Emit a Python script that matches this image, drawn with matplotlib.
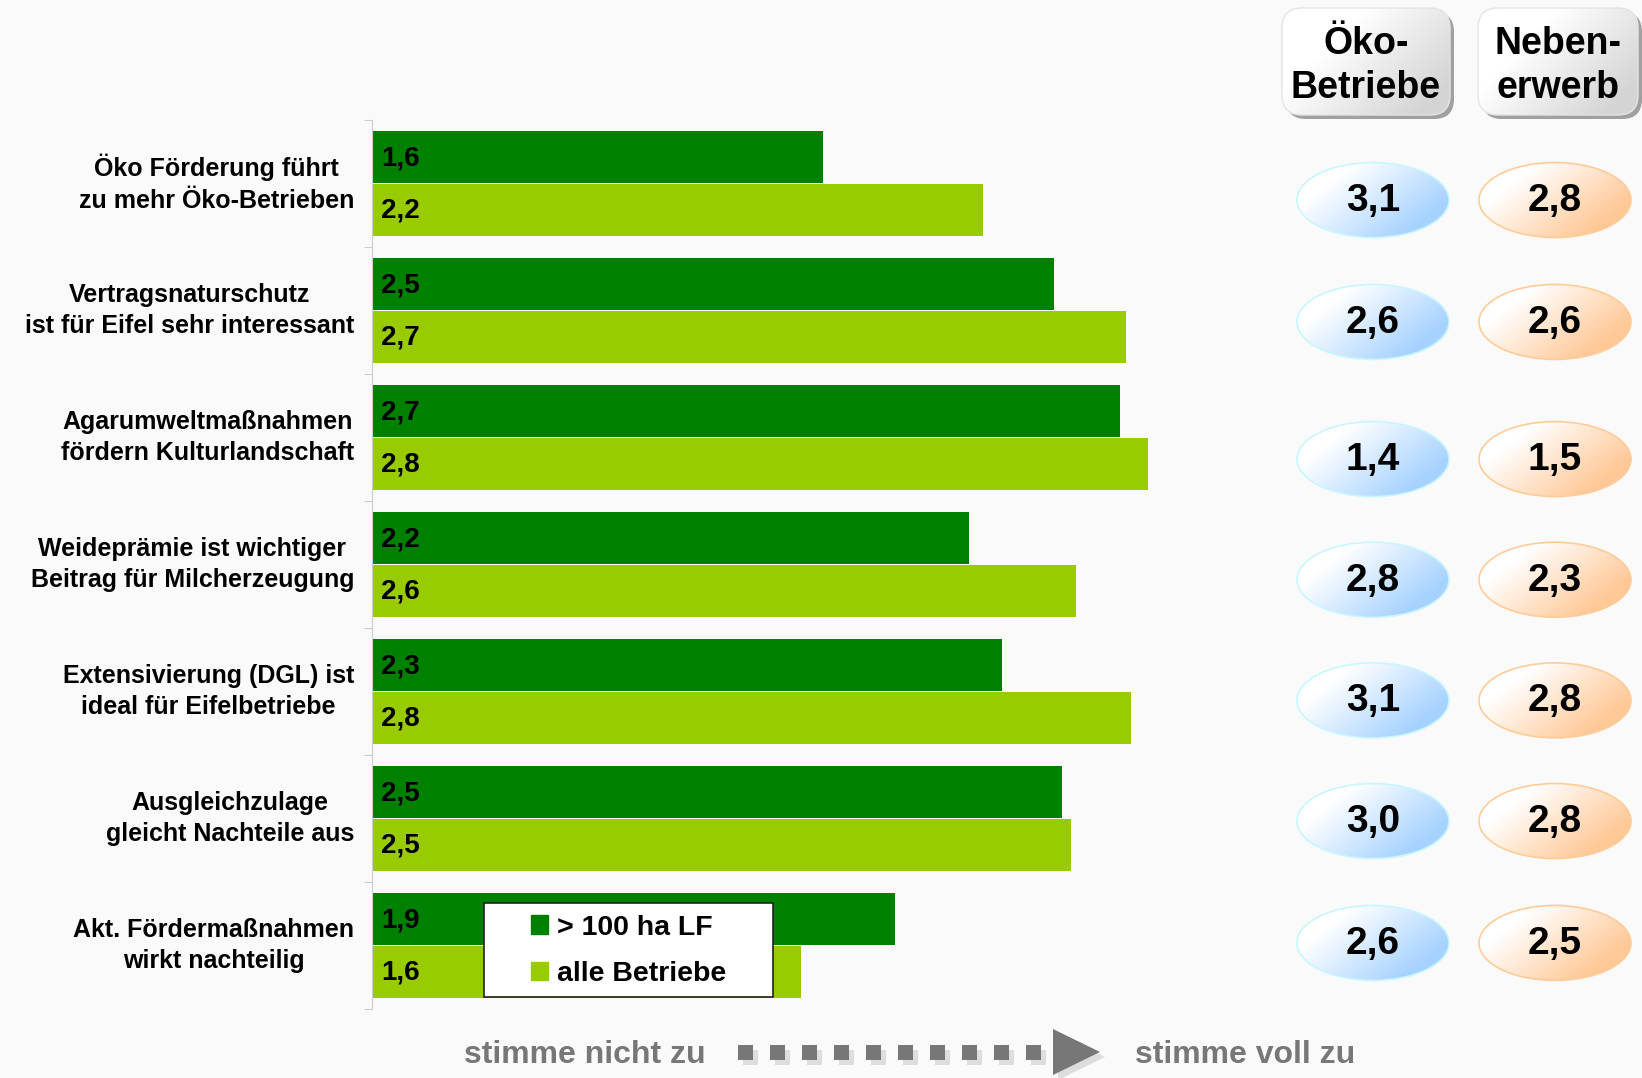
"""
Förderpolitik-Bewertung: Zustimmung je Aussage (>100 ha LF vs. alle Betriebe),
rechts Mittelwerte für Öko-Betriebe und Nebenerwerb.
"""
import numpy as np
import matplotlib
matplotlib.use("Agg")
import matplotlib.pyplot as plt
from matplotlib.patches import Ellipse, FancyBboxPatch, Rectangle, Polygon, Patch

plt.rcParams["font.family"] = ["Liberation Sans", "DejaVu Sans"]

# ── data ─────────────────────────────────────────────────────────────────────
CATEGORIES = [
    "Öko Förderung führt\nzu mehr Öko-Betrieben",
    "Vertragsnaturschutz\nist für Eifel sehr interessant",
    "Agarumweltmaßnahmen\nfördern Kulturlandschaft",
    "Weideprämie ist wichtiger\nBeitrag für Milcherzeugung",
    "Extensivierung (DGL) ist\nideal für Eifelbetriebe",
    "Ausgleichzulage\ngleicht Nachteile aus",
    "Akt. Fördermaßnahmen\nwirkt nachteilig",
]
GROSS = [1.64, 2.48, 2.72, 2.17, 2.29, 2.51, 1.90]   # > 100 ha LF
ALLE = [2.22, 2.74, 2.82, 2.56, 2.76, 2.54, 1.56]    # alle Betriebe
OEKO = [3.1, 2.6, 1.4, 2.8, 3.1, 3.0, 2.6]
NEBEN = [2.8, 2.6, 1.5, 2.3, 2.8, 2.8, 2.5]
SERIES_LABELS = ["> 100 ha LF", "alle Betriebe"]
HEADERS = ["Öko-\nBetriebe", "Neben-\nerwerb"]

DARK = "#008000"
LIGHT = "#99cc00"
BG = "#fafafa"
GREY = "#777777"

# layout nudges of the oval column (category units)
ROW_NUDGE = [0.13, 0.09, 0.17, 0.12, 0.07, 0.02, -0.02]

W, H = 1642, 1078
fig = plt.figure(figsize=(W / 100, H / 100), dpi=100, facecolor=BG)


def fx(px):
    return px / W


def fy(px):
    return 1 - px / H


def fmt(v):
    return f"{v:.1f}".replace(".", ",")


# ── bars ─────────────────────────────────────────────────────────────────────
ax = fig.add_axes([fx(372), fy(1009), 880 / W, 889 / H])
ax.set_facecolor("none")
n = len(CATEGORIES)
y = np.arange(n)
ax.barh(y + 0.29, GROSS, height=0.41, color=DARK, label=SERIES_LABELS[0])
ax.barh(y + 0.705, ALLE, height=0.41, color=LIGHT, label=SERIES_LABELS[1])
ax.set_xlim(0, 3.2)
ax.set_ylim(n, 0)
for i in range(n):
    ax.text(0.033, i + 0.30, fmt(GROSS[i]), va="center", ha="left",
            fontsize=20, fontweight="bold")
    ax.text(0.033, i + 0.715, fmt(ALLE[i]), va="center", ha="left",
            fontsize=20, fontweight="bold")
    ax.text(-0.065, i + 0.5, CATEGORIES[i], va="center", ha="right",
            multialignment="center", fontsize=18, fontweight="bold",
            linespacing=1.4)
for s in ["top", "right", "bottom"]:
    ax.spines[s].set_visible(False)
ax.spines["left"].set_color("#cccccc")
ax.set_yticks(np.arange(n + 1))
ax.set_yticklabels([])
ax.tick_params(axis="y", length=6, color="#cccccc")
ax.set_xticks([])

# ── overlay in pixel coordinates ─────────────────────────────────────────────
ov = fig.add_axes([0, 0, 1, 1], zorder=2)
ov.set_facecolor("none")
ov.set_axis_off()


def gradient(x0, y0, w, h, color, clip, z, start=0.3):
    u, v = np.meshgrid(np.linspace(0, 1, 120), np.linspace(0, 1, 60))
    t = np.clip((0.8 * u + 0.5 * v - start) / 0.75, 0, 1)[..., None]
    c = np.array(matplotlib.colors.to_rgb(color))
    img = (1 - t) * np.ones(3) + t * c
    im = ov.imshow(img, extent=(x0, x0 + w, y0 + h, y0), aspect="auto",
                   interpolation="bilinear", zorder=z)
    im.set_clip_path(clip)


# header boxes
for hx, hw, txt in [(1282, 168, HEADERS[0]), (1478, 160, HEADERS[1])]:
    sh = FancyBboxPatch((hx + 4, 12), hw, 107, boxstyle="round,pad=0,rounding_size=20",
                        fc="#a0a0a0", ec="none", zorder=2)
    ov.add_patch(sh)
    box = FancyBboxPatch((hx, 8), hw, 107, boxstyle="round,pad=0,rounding_size=20",
                         fc="white", ec="none", zorder=3)
    ov.add_patch(box)
    gradient(hx, 8, hw, 107, "#d4d4d4", box, 3.5, start=0.4)
    ov.add_patch(FancyBboxPatch((hx, 8), hw, 107, boxstyle="round,pad=0,rounding_size=20",
                                fc="none", ec="#e4e4e4", lw=1, zorder=4))
    ov.text(hx + hw / 2, 66, txt, ha="center", va="center", fontsize=27,
            fontweight="bold", linespacing=1.25, zorder=5)

# ovals with means
for i in range(n):
    yc = H - ax.transData.transform((0, i + 0.5 + ROW_NUDGE[i]))[1]
    for xc, val, col, edge in [(1373, OEKO[i], "#a6d2ff", "#c8f6ff"),
                               (1555, NEBEN[i], "#ffc896", "#ffcc99")]:
        e = Ellipse((xc, yc), 152, 75, fc="white", ec="none", zorder=3)
        ov.add_patch(e)
        gradient(xc - 76, yc - 37.5, 152, 75, col, e, 3.5)
        ov.add_patch(Ellipse((xc, yc), 152, 75, fc="none", ec=edge, lw=1.2, zorder=4))
        ov.text(xc, yc + 1, fmt(val), ha="center", va="center", fontsize=28,
                fontweight="bold", zorder=5)

# legend frame + legend
ov.add_patch(Rectangle((484, 903), 289, 94, fc="white", ec="#222222", lw=1.2, zorder=3))
handles = [Patch(color=DARK), Patch(color=LIGHT)]
fig.legend(handles, SERIES_LABELS, loc="upper left",
           bbox_to_anchor=(fx(522), fy(906)), frameon=False,
           prop={"size": 20.5, "weight": "bold"}, handlelength=0.62,
           handleheight=0.62, handletextpad=0.3, labelspacing=0.72,
           borderaxespad=0, borderpad=0.3)

# scale hint at the bottom
ov.text(706, 1055, "stimme nicht zu", ha="right", va="center", fontsize=23,
        color=GREY, fontweight="bold")
ov.text(1135, 1055, "stimme voll zu", ha="left", va="center", fontsize=23,
        color=GREY, fontweight="bold")
for k in range(10):
    sx = 738 + k * 32
    ov.add_patch(Rectangle((sx + 5, 1050), 15, 15, fc="#dddddd", ec="none", zorder=2))
    ov.add_patch(Rectangle((sx, 1045), 15, 15, fc=GREY, ec="none", zorder=3))
ov.add_patch(Polygon([[1058, 1034], [1105, 1057], [1058, 1080]], fc="#dddddd",
                     ec="none", zorder=2))
ov.add_patch(Polygon([[1053, 1029], [1100, 1052], [1053, 1075]], fc=GREY,
                     ec="none", zorder=3))

ov.set_xlim(0, W)
ov.set_ylim(H, 0)

fig.savefig("out.png", dpi=100, facecolor=BG)
